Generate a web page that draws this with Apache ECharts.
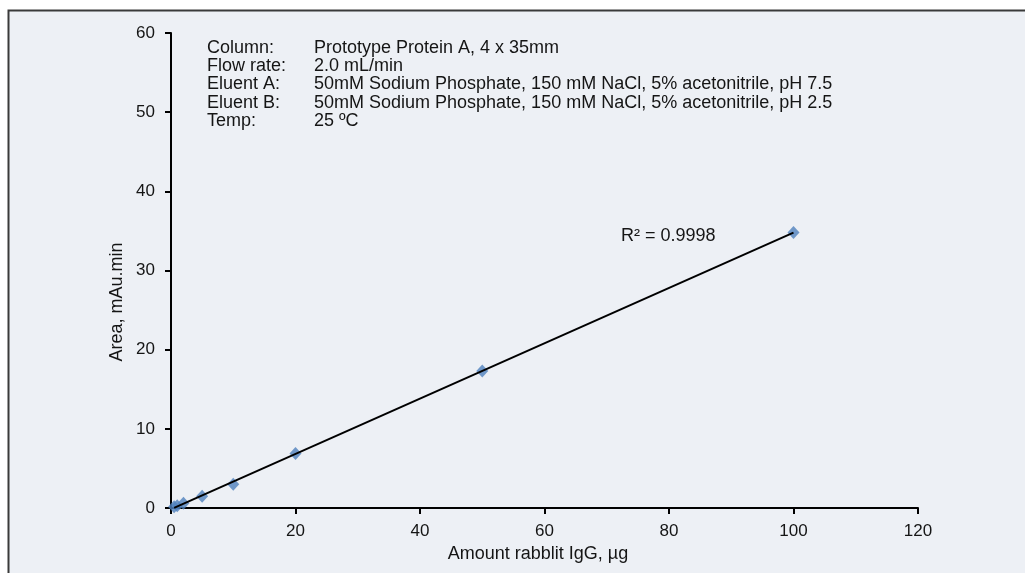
<!DOCTYPE html>
<html><head><meta charset="utf-8">
<script src="https://cdn.jsdelivr.net/npm/echarts@6/dist/echarts.min.js"></script>
<style>html,body{margin:0;padding:0;background:#fff}#c{width:1025px;height:573px}</style>
</head><body><div id="c"></div>
<script>
const amounts = [0.5, 1, 2, 5, 10, 20, 50, 100];
const areas = [0.15, 0.3, 0.6, 1.5, 3.0, 6.9, 17.3, 34.8];
const xTicks = [0, 20, 40, 60, 80, 100, 120];
const yTicks = [0, 10, 20, 30, 40, 50, 60];
const xName = 'Amount rabblit IgG, µg';
const yName = 'Area, mAu.min';
const infoLabels = ['Column:', 'Flow rate:', 'Eluent A:', 'Eluent B:', 'Temp:'];
const infoValues = ['Prototype Protein A, 4 x 35mm', '2.0 mL/min',
  '50mM Sodium Phosphate, 150 mM NaCl, 5% acetonitrile, pH 7.5',
  '50mM Sodium Phosphate, 150 mM NaCl, 5% acetonitrile, pH 2.5', '25 ºC'];
const rSquared = 'R² = 0.9998';

// least-squares trendline from data
const n = amounts.length;
const mx = amounts.reduce((a,b)=>a+b,0)/n, my = areas.reduce((a,b)=>a+b,0)/n;
let sxy=0,sxx=0; for(let i=0;i<n;i++){sxy+=(amounts[i]-mx)*(areas[i]-my);sxx+=(amounts[i]-mx)**2;}
const slope=sxy/sxx, icpt=my-slope*mx;
const xMin=Math.min(...amounts), xMax=Math.max(...amounts);
const trend=[[xMin,icpt+slope*xMin],[xMax,icpt+slope*xMax]];

const font='"Liberation Sans", Arial, sans-serif';
const txt='#151515';
const chart=echarts.init(document.getElementById('c'));
const infoText = infoLabels.map((l,i)=>'{a|'+l+'}{b|'+infoValues[i]+'}').join('\n');
chart.setOption({
  backgroundColor:'#fff',
  animation:false,
  graphic:[
    {type:'rect',z:-10,shape:{x:8.5,y:10.5,width:1100,height:700},style:{fill:'#EDF0F5',stroke:'#3a3a3a',lineWidth:2}},
    {type:'text',x:207,y:39,z:10,style:{text:infoText,font:'18px '+font,fill:txt,lineHeight:18.2,
      rich:{a:{width:107,font:'18px '+font,fill:txt,lineHeight:18.2},b:{font:'18px '+font,fill:txt,lineHeight:18.2}}}},
    {type:'text',x:621,y:236,z:10,style:{text:rSquared,font:'18px '+font,fill:txt,verticalAlign:'middle',align:'left'}},
    {type:'text',x:538,y:554,z:10,style:{text:xName,font:'18px '+font,fill:txt,verticalAlign:'middle',align:'center'}},
    {type:'text',x:117,y:302,rotation:Math.PI/2,z:10,style:{text:yName,font:'18px '+font,fill:txt,verticalAlign:'middle',align:'center'}}
  ],
  grid:{left:171,right:107,top:33,bottom:65,containLabel:false},
  xAxis:{type:'value',min:xTicks[0],max:xTicks[xTicks.length-1],interval:20,
    axisLine:{onZero:false,lineStyle:{color:'#000',width:2}},
    axisTick:{show:true,length:6,lineStyle:{color:'#000',width:2}},
    axisLabel:{fontFamily:font,fontSize:17,color:txt,margin:15},
    splitLine:{show:false}},
  yAxis:{type:'value',min:yTicks[0],max:yTicks[yTicks.length-1],interval:10,
    axisLine:{show:true,onZero:false,lineStyle:{color:'#000',width:2}},
    axisTick:{show:true,length:6,lineStyle:{color:'#000',width:2}},
    axisLabel:{fontFamily:font,fontSize:17,color:txt,margin:16},
    splitLine:{show:false}},
  series:[
    {type:'line',data:trend,symbol:'none',lineStyle:{color:'#000',width:2},z:3,silent:true},
    {type:'scatter',data:amounts.map((x,i)=>[x,areas[i]]),symbol:'diamond',symbolSize:[12,13],
     itemStyle:{color:'#4F81BD'},z:2}
  ]
});
</script></body></html>
